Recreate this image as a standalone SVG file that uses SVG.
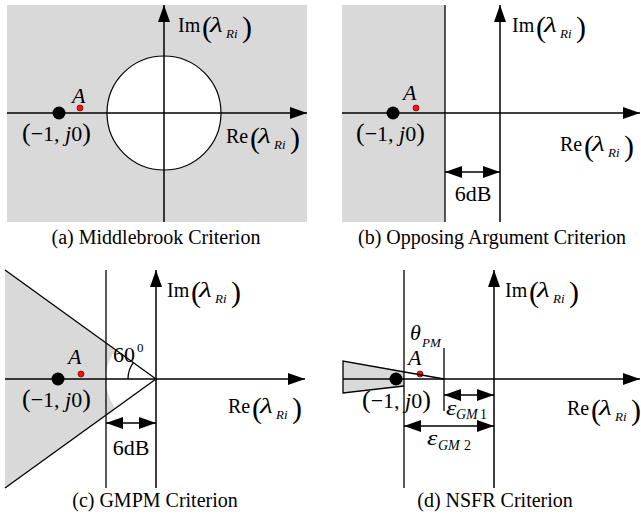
<svg xmlns="http://www.w3.org/2000/svg" width="641" height="519" viewBox="0 0 641 519">
<defs>
<marker id="ah" markerUnits="userSpaceOnUse" markerWidth="18" markerHeight="12" refX="17" refY="6" orient="auto-start-reverse"><path d="M0,0 L17,6 L0,12 z" fill="#000"/></marker>
</defs>
<style>
text{font-family:"Liberation Serif","Times New Roman",serif;fill:#000}
.cap{font-size:20px;text-anchor:middle}
.t{font-size:20px}
.p{font-size:30px}
.l{font-size:22px;font-style:italic}
.s{font-size:13px;font-style:italic}
.s2{font-size:14px;font-style:italic}
.n{font-size:22px}
.ax{stroke:#000;stroke-width:1.5;fill:none}
.ln{stroke:#000;stroke-width:1.3;fill:none}
.gray{fill:#d9d9d9}
.red{fill:#ff1010;stroke:#700;stroke-width:0.8}
</style>
<rect width="641" height="519" fill="#fff"/>

<g id="panel-a">
<rect x="7" y="5" width="300" height="217" class="gray"/>
<circle cx="164" cy="113" r="57" fill="#fff" stroke="#000" stroke-width="1.2"/>
<circle cx="59" cy="113" r="6.5"/>
<circle cx="80" cy="108" r="3" class="red"/>
<text class="l" x="72" y="103">A</text>
<text class="n" x="22" y="141"><tspan font-size="26">(</tspan>−1, <tspan font-style="italic">j</tspan>0<tspan font-size="26">)</tspan></text>
<g transform="translate(178,32)"><text class="t" x="0" y="0">Im</text><text class="p" x="24" y="5">(</text><text class="l" transform="translate(32,0) scale(1.35,1)">λ</text><text class="s" x="48" y="6">Ri</text><text class="p" x="64" y="5">)</text></g>
<g transform="translate(226,143)"><text class="t" x="0" y="0">Re</text><text class="p" x="24" y="5">(</text><text class="l" transform="translate(32,0) scale(1.35,1)">λ</text><text class="s" x="48" y="6">Ri</text><text class="p" x="64" y="5">)</text></g>
<text class="cap" x="156" y="244">(a) Middlebrook Criterion</text>
</g>

<g id="panel-b">
<rect x="342" y="5" width="103" height="217" class="gray"/>
<circle cx="393" cy="113" r="6.5"/>
<circle cx="416" cy="108" r="3" class="red"/>
<text class="l" x="403" y="100">A</text>
<text class="n" x="356" y="141"><tspan font-size="26">(</tspan>−1, <tspan font-style="italic">j</tspan>0<tspan font-size="26">)</tspan></text>
<text class="n" x="473" y="201" text-anchor="middle">6dB</text>
<g transform="translate(512,32)"><text class="t" x="0" y="0">Im</text><text class="p" x="24" y="5">(</text><text class="l" transform="translate(32,0) scale(1.35,1)">λ</text><text class="s" x="48" y="6">Ri</text><text class="p" x="64" y="5">)</text></g>
<g transform="translate(560,151)"><text class="t" x="0" y="0">Re</text><text class="p" x="24" y="5">(</text><text class="l" transform="translate(32,0) scale(1.35,1)">λ</text><text class="s" x="48" y="6">Ri</text><text class="p" x="64" y="5">)</text></g>
<text class="cap" x="492" y="244">(b) Opposing Argument Criterion</text>
</g>

<g id="panel-c">
<polygon points="5,270 156,379 5,488" class="gray"/>
<circle cx="156" cy="379" r="50" fill="#fff"/>
<circle cx="58" cy="379" r="6.5"/>
<circle cx="81" cy="374" r="3" class="red"/>
<text class="l" x="68" y="364">A</text>
<text class="n" x="22" y="407"><tspan font-size="26">(</tspan>−1, <tspan font-style="italic">j</tspan>0<tspan font-size="26">)</tspan></text>
<text class="n" x="113" y="362">60</text>
<text font-size="13" x="137" y="352">0</text>
<text class="n" x="131" y="455" text-anchor="middle">6dB</text>
<g transform="translate(167,297)"><text class="t" x="0" y="0">Im</text><text class="p" x="24" y="5">(</text><text class="l" transform="translate(32,0) scale(1.35,1)">λ</text><text class="s" x="48" y="6">Ri</text><text class="p" x="64" y="5">)</text></g>
<g transform="translate(228,413)"><text class="t" x="0" y="0">Re</text><text class="p" x="24" y="5">(</text><text class="l" transform="translate(32,0) scale(1.35,1)">λ</text><text class="s" x="48" y="6">Ri</text><text class="p" x="64" y="5">)</text></g>
<text class="cap" x="155" y="507">(c) GMPM Criterion</text>
</g>

<g id="panel-d">
<polygon points="343,361 404,371.1 404,386 343,393" class="gray"/>
<circle cx="396" cy="379" r="6.5"/>
<circle cx="420" cy="374" r="3" class="red"/>
<text class="l" x="408" y="365">A</text>
<text class="l" x="410" y="340">θ</text>
<text class="s" x="422" y="347">PM</text>
<text class="n" x="362" y="408"><tspan font-size="26">(</tspan>−1, <tspan font-style="italic">j</tspan>0<tspan font-size="26">)</tspan></text>
<text class="l" transform="translate(446,415) scale(1.2,1)">ε</text>
<text class="s2" x="456" y="419">GM</text>
<text font-size="14" x="480" y="419">1</text>
<text class="l" transform="translate(427,445) scale(1.2,1)">ε</text>
<text class="s2" x="438" y="450">GM</text>
<text font-size="14" x="464" y="450">2</text>
<g transform="translate(505,297)"><text class="t" x="0" y="0">Im</text><text class="p" x="24" y="5">(</text><text class="l" transform="translate(32,0) scale(1.35,1)">λ</text><text class="s" x="48" y="6">Ri</text><text class="p" x="64" y="5">)</text></g>
<g transform="translate(567,415)"><text class="t" x="0" y="0">Re</text><text class="p" x="24" y="5">(</text><text class="l" transform="translate(32,0) scale(1.35,1)">λ</text><text class="s" x="48" y="6">Ri</text><text class="p" x="64" y="5">)</text></g>
<text class="cap" x="495" y="507">(d) NSFR Criterion</text>
</g>

<g id="connectors">
<line x1="164" y1="222" x2="164" y2="5" class="ax" marker-end="url(#ah)"/>
<line x1="7" y1="113" x2="307" y2="113" class="ax" marker-end="url(#ah)"/>

<line x1="445" y1="5" x2="445" y2="222" class="ln"/>
<line x1="500" y1="222" x2="500" y2="5" class="ax" marker-end="url(#ah)"/>
<line x1="342" y1="113" x2="640" y2="113" class="ax" marker-end="url(#ah)"/>
<line x1="445" y1="172" x2="500" y2="172" class="ln" marker-start="url(#ah)" marker-end="url(#ah)"/>

<line x1="5" y1="270" x2="156" y2="379" class="ln"/>
<line x1="156" y1="379" x2="5" y2="488" class="ln"/>
<line x1="106" y1="270" x2="106" y2="488" class="ln"/>
<line x1="156" y1="488" x2="156" y2="270" class="ax" marker-end="url(#ah)"/>
<line x1="5" y1="379" x2="305" y2="379" class="ax" marker-end="url(#ah)"/>
<path d="M133.3,362.6 A28,28 0 0 0 128,379" class="ln"/>
<line x1="106" y1="423" x2="156" y2="423" class="ln" marker-start="url(#ah)" marker-end="url(#ah)"/>

<polyline points="444,379 343,361 343,393 404,386" class="ln"/>
<line x1="404" y1="270" x2="404" y2="488" class="ln"/>
<line x1="444" y1="348" x2="444" y2="411" class="ln"/>
<line x1="494" y1="488" x2="494" y2="270" class="ax" marker-end="url(#ah)"/>
<line x1="343" y1="379" x2="640" y2="379" class="ax" marker-end="url(#ah)"/>
<line x1="444" y1="395" x2="494" y2="395" class="ln" marker-start="url(#ah)" marker-end="url(#ah)"/>
<line x1="404" y1="426" x2="494" y2="426" class="ln" marker-start="url(#ah)" marker-end="url(#ah)"/>
</g>
</svg>
